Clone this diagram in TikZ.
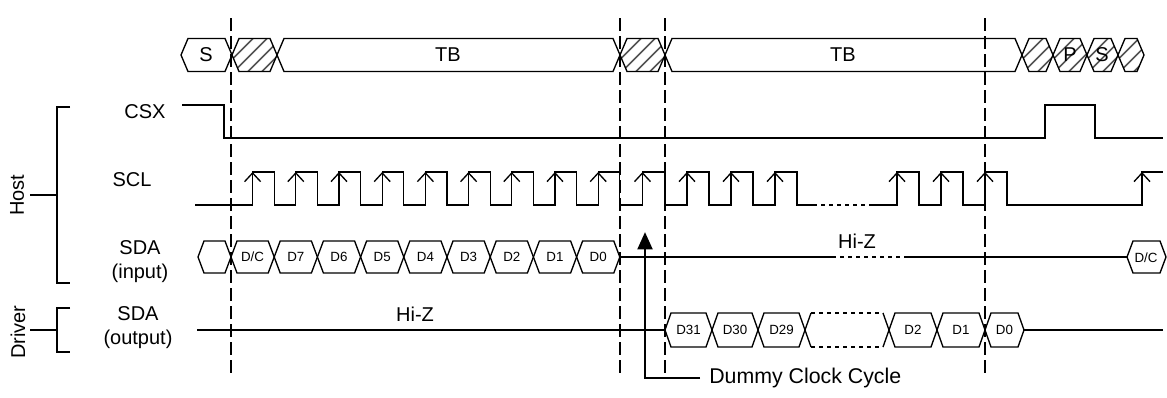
\documentclass[tikz,border=0pt]{standalone}
\usepackage{fontspec}
\setmainfont{Liberation Sans}
\usetikzlibrary{arrows.meta}

\newcommand{\hexpath}[5]{(#1,#3) -- (#1+#5,#3-#4) -- (#2-#5,#3-#4) -- (#2,#3) -- (#2-#5,#3+#4) -- (#1+#5,#3+#4) -- cycle}
\newcommand{\hatchhex}[5]{%
  \begin{scope}
    \clip \hexpath{#1}{#2}{#3}{#4}{#5};
    \foreach \hx in {-40,-26,...,60}
      \draw[hatch] (#1+\hx,#3+#4) -- ++(2*#4,-2*#4);
  \end{scope}
  \draw[bus] \hexpath{#1}{#2}{#3}{#4}{#5};}

\begin{document}
\begin{tikzpicture}[x=0.75pt,y=-0.75pt,
    bus/.style={line width=1pt},
    wave/.style={line width=1pt},
    hatch/.style={line width=1.3pt,gray!65!black},
    guide/.style={line width=1.1pt,dash pattern=on 9.5pt off 4pt},
    lbl/.style={font=\fontsize{15}{18}\selectfont,align=center,inner sep=0pt},
    bit/.style={font=\fontsize{10}{12}\selectfont,inner sep=0pt},
    edge/.style={line width=1pt,-{Straight Barb[length=6.5pt,width=12pt]}},
    pointer/.style={line width=2.2pt,-{Triangle[length=13pt,width=11pt]}}]
                    \useasboundingbox (0,0) rectangle (1167,397);
                    % guides
                    \foreach \x in {231,620,665,985}
                        \draw[guide] (\x,18) -- (\x,375);
                    % frame row
                    \draw[bus] \hexpath{181}{232}{55}{16.5}{7};
                    \node[lbl] (fs) at (206,55) {S};
                    \hatchhex{232}{277}{55}{16.5}{7}
                    \draw[bus] \hexpath{277}{620}{55}{16.5}{7};
                    \node[lbl] (ftb1) at (448,55) {TB};
                    \hatchhex{620}{665}{55}{16.5}{7}
                    \draw[bus] \hexpath{665}{1022}{55}{16.5}{7};
                    \node[lbl] (ftb2) at (843,55) {TB};
                    \hatchhex{1022}{1053}{55}{16.5}{7}
                    \hatchhex{1053}{1087}{55}{16.5}{7}
                    \node[lbl] (fp) at (1070,55) {P};
                    \hatchhex{1087}{1118}{55}{16.5}{7}
                    \node[lbl] (fs2) at (1102,55) {S};
                    \hatchhex{1118}{1144}{55}{16.5}{7}
                    % left labels
                    \node[lbl] (csx) at (145,112) {CSX};
                    \node[lbl] (scl) at (132,180) {SCL};
                    \node[lbl] (sdain) at (140,262) {SDA\\(input)};
                    \node[lbl] (sdaout) at (138,328) {SDA\\(output)};
                    \node[lbl,rotate=90] (host) at (17,195) {Host};
                    \node[lbl,rotate=90] (drv) at (18,332) {Driver};
                    \draw[bus] (70,107) -- (57,107) -- (57,283) -- (70,283);
                    \draw[bus] (30,195) -- (57,195);
                    \draw[bus] (70,308) -- (57,308) -- (57,352) -- (70,352);
                    \draw[bus] (30,330) -- (57,330);
                    % CSX
                    \draw[wave] (182,105) -- (224,105) -- (224,138) -- (1045,138)
                        -- (1045,105) -- (1095,105) -- (1095,138) -- (1163,138);
                    % SCL
                    \draw[wave] (195,205)
                        \foreach \i [evaluate=\i as \r using 252.6+43.2*\i,
                                     evaluate=\i as \f using 274.2+43.2*\i] in {0,...,8}
                            { -- (\r,205) -- (\r,172) -- (\f,172) -- (\f,205) }
                        -- (642.5,205) -- (642.5,172) -- (665,172) -- (665,205)
                        -- (687,205) -- (687,172) -- (709,172) -- (709,205)
                        -- (731,205) -- (731,172) -- (753,172) -- (753,205)
                        -- (775,205) -- (775,172) -- (797,172) -- (797,205) -- (813,205);
                    \draw[wave,dashed] (813,205) -- (873,205);
                    \draw[wave] (873,205) -- (897,205) -- (897,172) -- (919,172) -- (919,205)
                        -- (941,205) -- (941,172) -- (963,172) -- (963,205)
                        -- (985,205) -- (985,172) -- (1007,172) -- (1007,205)
                        -- (1142,205) -- (1142,172) -- (1163,172);
                    \foreach \r in {252.6,295.8,339,382.2,425.4,468.6,511.8,555,598.2,
                                    642.5,687,731,775,897,941,985,1142}
                        \draw[edge] (\r,205) -- (\r,172);
                    % SDA (input)
                    \draw[bus] \hexpath{198}{231}{257}{16}{6};
                    \foreach \b [count=\k from 0] in {D/C,D7,D6,D5,D4,D3,D2,D1,D0} {
                        \draw[bus] \hexpath{231+43.2*\k}{274.2+43.2*\k}{257}{16}{6};
                        \node[bit] (in\k) at (252.6+43.2*\k,257) {\b};
                    }
                    \draw[wave] (620,257) -- (832,257);
                    \draw[wave,dashed] (832,257) -- (908,257);
                    \draw[wave] (908,257) -- (1127,257);
                    \node[lbl] (hizin) at (857,241) {Hi-Z};
                    \draw[bus] \hexpath{1127}{1166}{257}{16}{6};
                    \node[bit] (indc) at (1146,258) {D/C};
                    % SDA (output)
                    \draw[wave] (197,330) -- (665,330);
                    \node[lbl] (hizout) at (415,314) {Hi-Z};
                    \foreach \a/\b/\t [count=\k] in {665/712/D31,712/758/D30,758/805/D29,
                                                     889/937/D2,937/985/D1,985/1024/D0} {
                        \draw[bus] \hexpath{\a}{\b}{330}{17}{6};
                        \node[bit] (out\k) at ({(\a+\b)/2},330) {\t};
                    }
                    \draw[bus] (811,313) -- (805,330) -- (811,347);
                    \draw[bus] (883,313) -- (889,330) -- (883,347);
                    \draw[bus,dashed] (811,313) -- (883,313);
                    \draw[bus,dashed] (811,347) -- (883,347);
                    \draw[wave] (1024,330) -- (1163,330);
                    % dummy cycle pointer
                    \coordinate (dend) at (700,378);
                    \node[lbl,anchor=west,font=\fontsize{16}{19}\selectfont] (dcc) at (709,378) {Dummy Clock Cycle};
                    \draw[pointer] (dend) -| (645,232);
                \end{tikzpicture}
\end{document}
